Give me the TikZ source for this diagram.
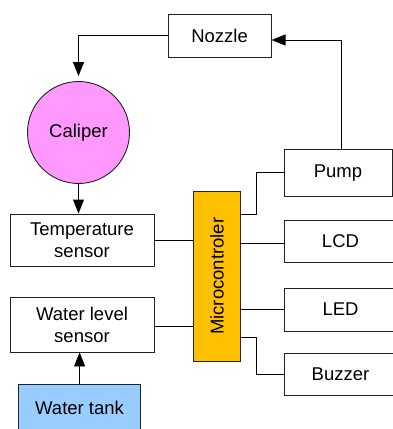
\documentclass[tikz,border=0pt]{standalone}
\usepackage{fontspec}
\setmainfont{Liberation Sans}
\usetikzlibrary{arrows.meta,calc}
\definecolor{calfill}{HTML}{FF99FF}
\definecolor{tankfill}{HTML}{99CCFF}
\definecolor{mcufill}{HTML}{FFC000}
\definecolor{edge}{HTML}{222222}
\tikzset{
  blk/.style={draw=edge, line width=0.9pt, inner sep=0pt, align=center,
    font=\fontsize{18.5}{22}\selectfont},
  conn/.style={draw=black, line width=0.9pt},
  arr/.style={conn, -{Triangle[length=14pt,width=11pt]}},
}
\begin{document}
\begin{tikzpicture}[x=1pt,y=-1pt]
\useasboundingbox (0,0) rectangle (393,429);
\clip (0,0) rectangle (393,429);
\node[blk, minimum width=103pt, minimum height=43.3pt] (nozzle) at (219.6,35.7) {Nozzle};
\node[blk, circle, fill=calfill, minimum size=102pt] (caliper) at (78.5,132.5) {Caliper};
\node[blk, minimum width=144pt, minimum height=52pt] (temp) at (82,240) {Temperature\\sensor};
\node[blk, minimum width=144pt, minimum height=55pt] (wl) at (82,324.5) {Water level\\sensor};
\node[blk, fill=tankfill, minimum width=122pt, minimum height=47pt] (tank) at (79.6,407.5) {Water tank};
\node[blk, fill=mcufill, minimum width=47.7pt, minimum height=169.3pt] (mcu) at (216.9,276.3) {};
\node[font=\fontsize{18.5}{22}\selectfont, rotate=90, inner sep=0pt] (mcutext) at (mcu.center) {Microcontroler};
\node[blk, minimum width=108pt, minimum height=47.5pt] (pump) at (338,172.8) {Pump};
\node[blk, minimum width=113pt, minimum height=42.3pt] (lcd) at (340.5,241.1) {LCD};
\node[blk, minimum width=113pt, minimum height=42.7pt] (led) at (340.5,309.6) {LED};
\node[blk, minimum width=113pt, minimum height=41.7pt] (buzzer) at (340.5,374.2) {Buzzer};

\draw[arr, shorten >=5pt] (nozzle.west) -| (caliper.north);
\draw[arr] (caliper.south) -- (caliper.south |- temp.north);
\draw[arr] (tank.north) -- (tank.north |- wl.south);
\draw[arr] ([xshift=3.5pt]pump.north) |- ([yshift=-4.3pt]nozzle.east);
\draw[conn] (temp.east) -- (temp.east -| mcu.west);
\draw[conn] ([yshift=-2.2pt]wl.east) -- ([yshift=-2.2pt]wl.east -| mcu.west);
\draw[conn] ([yshift=62.3pt]mcu.east) -- ++(15,0) |- (pump.west);
\draw[conn] ([yshift=-2.5pt]lcd.west) -- ([yshift=-2.5pt]lcd.west -| mcu.east);
\draw[conn] (led.west) -- (led.west -| mcu.east);
\draw[conn] ([yshift=-61.4pt]mcu.east) -- ++(15,0) |- (buzzer.west);
\end{tikzpicture}
\end{document}
